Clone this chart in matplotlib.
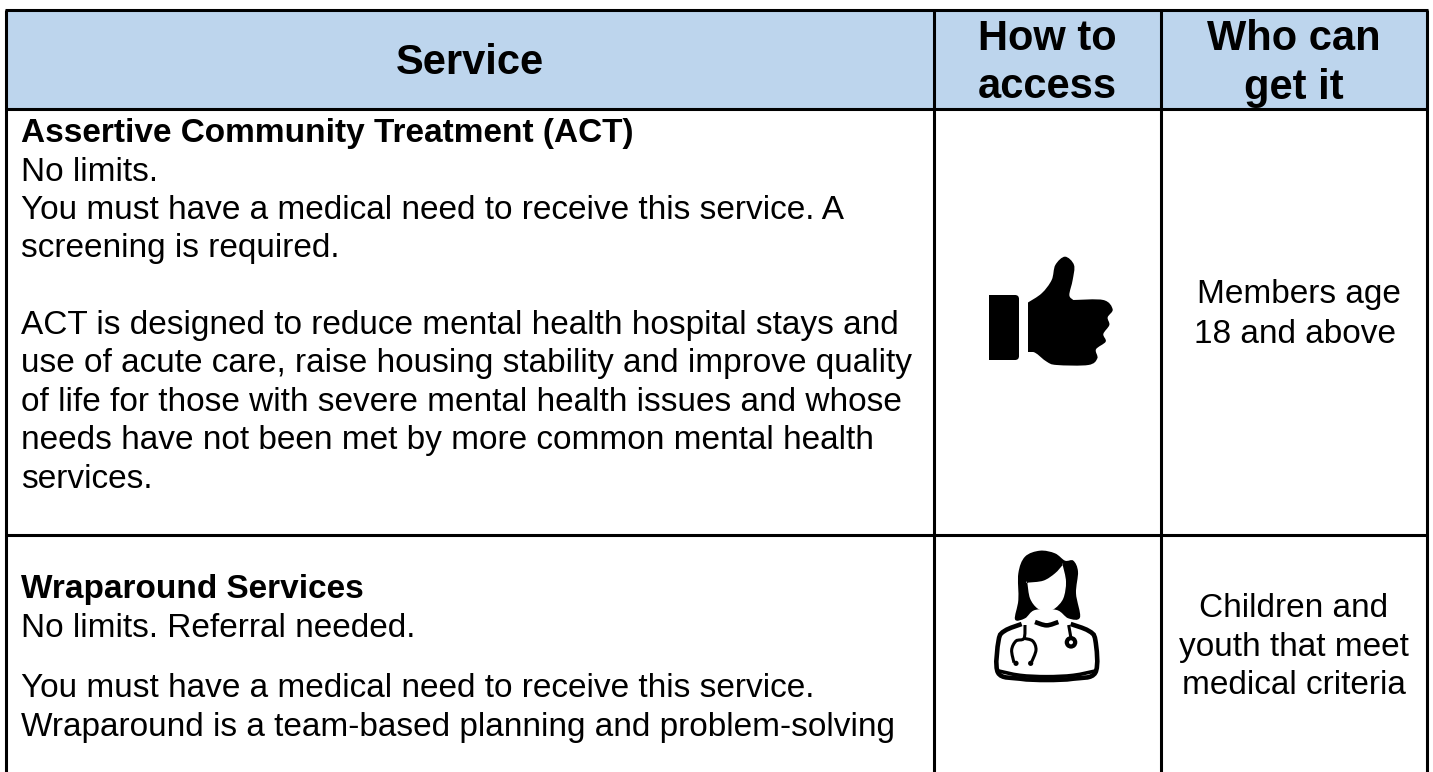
import matplotlib
matplotlib.use('Agg')
import matplotlib.pyplot as plt
import numpy as np
from matplotlib.path import Path
from matplotlib.patches import PathPatch, Rectangle, Circle, FancyBboxPatch

plt.rcParams['font.family'] = ['Liberation Sans', 'DejaVu Sans']

# table text
header_service = 'Service'
header_access = ['How to', 'access']
header_who = ['Who can', 'get it']
row1_bold = 'Assertive Community Treatment (ACT)'
row1_lines = ['No limits.',
              'You must have a medical need to receive this service. A',
              'screening is required.',
              '',
              'ACT is designed to reduce mental health hospital stays and',
              'use of acute care, raise housing stability and improve quality',
              'of life for those with severe mental health issues and whose',
              'needs have not been met by more common mental health',
              'services.']
row1_who = ['Members age', '18 and above']
row2_bold = 'Wraparound Services'
row2_lines = ['No limits. Referral needed.']
row2_lines2 = ['You must have a medical need to receive this service.',
               'Wraparound is a team-based planning and problem-solving']
row2_who = ['Children and', 'youth that meet', 'medical criteria']

# icon outlines, in the pixels of a 3x crop
thumb_hand = [(263,218),(263,218),(305,190),(335,150),(346,105),(375,80),(402,105),(398,150),(388,195),(400,210),(400,210),
              (490,210),(518,238),(503,262),(508,285),(490,312),(497,335),(468,358),(472,385),
              (445,405),(350,405),(320,395),(285,368),(263,366),(263,366)]
hair = [(225,328),(235,270),(235,190),(255,140),(300,122),(345,130),(375,152),(400,152),(414,185),
        (408,250),(420,322),(385,325),(350,300),(285,300),(255,325)]
face = [(262,218),(262,218),(310,212),(345,190),(368,165),(368,165),(378,215),(370,265),(345,295),(320,303),(292,295),(270,265)]
body = [(245,342),(195,362),(176,390),(174,488),(240,506),(320,510),(400,506),(466,488),(466,390),(445,362),(392,342)]
band = [(172,482),(240,496),(320,500),(400,496),(470,482)]
collar = [(285,336),(320,346),(355,336)]
tube_l = [(255,345),(252,385),(228,393),(215,420),(222,458)]
tube_r = [(252,385),(278,393),(288,420),(274,458)]

BLACK = '#000000'
LINE_W = 2.2


def crop_xy(points, x0, y0):
    a = np.array(points, dtype=float)
    return np.column_stack((a[:, 0] / 3 + x0, a[:, 1] / 3 + y0))


def smooth_path(pts, closed=True):
    # catmull-rom through the outline points, a doubled point gives a corner
    n = len(pts)
    verts = [pts[0]]
    codes = [Path.MOVETO]
    last = n if closed else n - 1
    for i in range(last):
        if closed:
            p0, p1, p2, p3 = pts[(i-1) % n], pts[i], pts[(i+1) % n], pts[(i+2) % n]
        else:
            p0, p1, p2, p3 = pts[max(i-1, 0)], pts[i], pts[i+1], pts[min(i+2, n-1)]
        verts += [p1 + (p2-p0)/6, p2 - (p3-p1)/6, p2]
        codes += [Path.CURVE4]*3
    return Path(verts, codes)


fig = plt.figure(figsize=(14.33, 7.72), dpi=100)
ax = fig.add_axes([0, 0, 1, 1])
ax.set_xlim(0, 1433)
ax.set_ylim(772, 0)
ax.axis('off')

# header band
ax.add_patch(Rectangle((6.4, 9.7), 1420.3, 99.6, fc='#BDD5ED', ec='none'))

# grid
for x in [6.4, 934, 1161.3, 1426.7]:
    ax.plot([x, x], [9.7, 772], color=BLACK, lw=LINE_W, solid_capstyle='butt')
for y in [9.7, 109.3, 535]:
    ax.plot([5, 1428], [y, y], color=BLACK, lw=LINE_W, solid_capstyle='butt')

# header text
HEAD = 30
ax.text(470, 74, header_service, fontsize=HEAD, fontweight='bold', ha='center', va='baseline')
for txt, y in zip(header_access, [50, 98.5]):
    ax.text(1047, y, txt, fontsize=HEAD, fontweight='bold', ha='center', va='baseline', zorder=5)
for txt, y in zip(header_who, [50, 98.5]):
    ax.text(1294, y, txt, fontsize=HEAD, fontweight='bold', ha='center', va='baseline', zorder=5)

# service column
LEFT = 21
BODY = 24
ax.text(LEFT, 142, row1_bold, fontsize=BODY, fontweight='bold', va='baseline')
for i, txt in enumerate(row1_lines):
    ax.text(LEFT, 180.7 + i*38.35, txt, fontsize=BODY, va='baseline')
ax.text(LEFT, 598, row2_bold, fontsize=BODY, fontweight='bold', va='baseline')
ax.text(LEFT, 636.7, row2_lines[0], fontsize=BODY, va='baseline')
for txt, y in zip(row2_lines2, [697, 735.7]):
    ax.text(LEFT, y, txt, fontsize=BODY, va='baseline')

# who column
for txt, x, y in zip(row1_who, [1298.8, 1295.5], [303, 342.7]):
    ax.text(x, y, txt, fontsize=BODY, ha='center', va='baseline')
for txt, y in zip(row2_who, [617, 656, 694.5]):
    ax.text(1294, y, txt, fontsize=BODY, ha='center', va='baseline')

# thumbs up icon, white strip trims the hand's left edge before the cuff goes on
ax.add_patch(PathPatch(smooth_path(crop_xy(thumb_hand, 940, 230)), fc=BLACK, ec='none'))
ax.add_patch(Rectangle((1027.7, 303), 8, 49, fc=BLACK, ec='none'))
ax.add_patch(Rectangle((1015, 290), 12.7, 80, fc='white', ec='none'))
ax.add_patch(FancyBboxPatch((989.3, 295), 29.7, 65, boxstyle='round,pad=0,rounding_size=4', fc=BLACK, ec='none'))
ax.add_patch(Rectangle((989.3, 295), 10, 65, fc=BLACK, ec='none'))

# doctor icon
DX, DY = 940, 510
ax.add_patch(PathPatch(smooth_path(crop_xy(body, DX, DY), closed=False), fc='none', ec=BLACK, lw=3.3))
ax.add_patch(PathPatch(smooth_path(crop_xy(band, DX, DY), closed=False), fc='none', ec=BLACK, lw=2.6))
ax.add_patch(PathPatch(smooth_path(crop_xy(hair, DX, DY)), fc=BLACK, ec='none'))
ax.add_patch(PathPatch(smooth_path(crop_xy(face, DX, DY)), fc='white', ec='none'))
ax.add_patch(PathPatch(smooth_path(crop_xy(collar, DX, DY), closed=False), fc='none', ec=BLACK, lw=3.3))
ax.add_patch(PathPatch(smooth_path(crop_xy(tube_l, DX, DY), closed=False), fc='none', ec=BLACK, lw=2.2))
ax.add_patch(PathPatch(smooth_path(crop_xy(tube_r, DX, DY), closed=False), fc='none', ec=BLACK, lw=2.2))
ax.add_patch(PathPatch(smooth_path(crop_xy([(386,345),(393,385)], DX, DY), closed=False), fc='none', ec=BLACK, lw=2.2))
ax.add_patch(Circle((DX+393/3, DY+397/3), 6.3, fc=BLACK, ec='none'))
ax.add_patch(Circle((DX+393/3, DY+397/3), 2, fc='white', ec='none'))
for cx in [228, 272]:
    ax.add_patch(Circle((DX+cx/3, DY+460/3), 2.6, fc=BLACK, ec='none'))

fig.savefig('out.png', dpi=100, facecolor='white')
